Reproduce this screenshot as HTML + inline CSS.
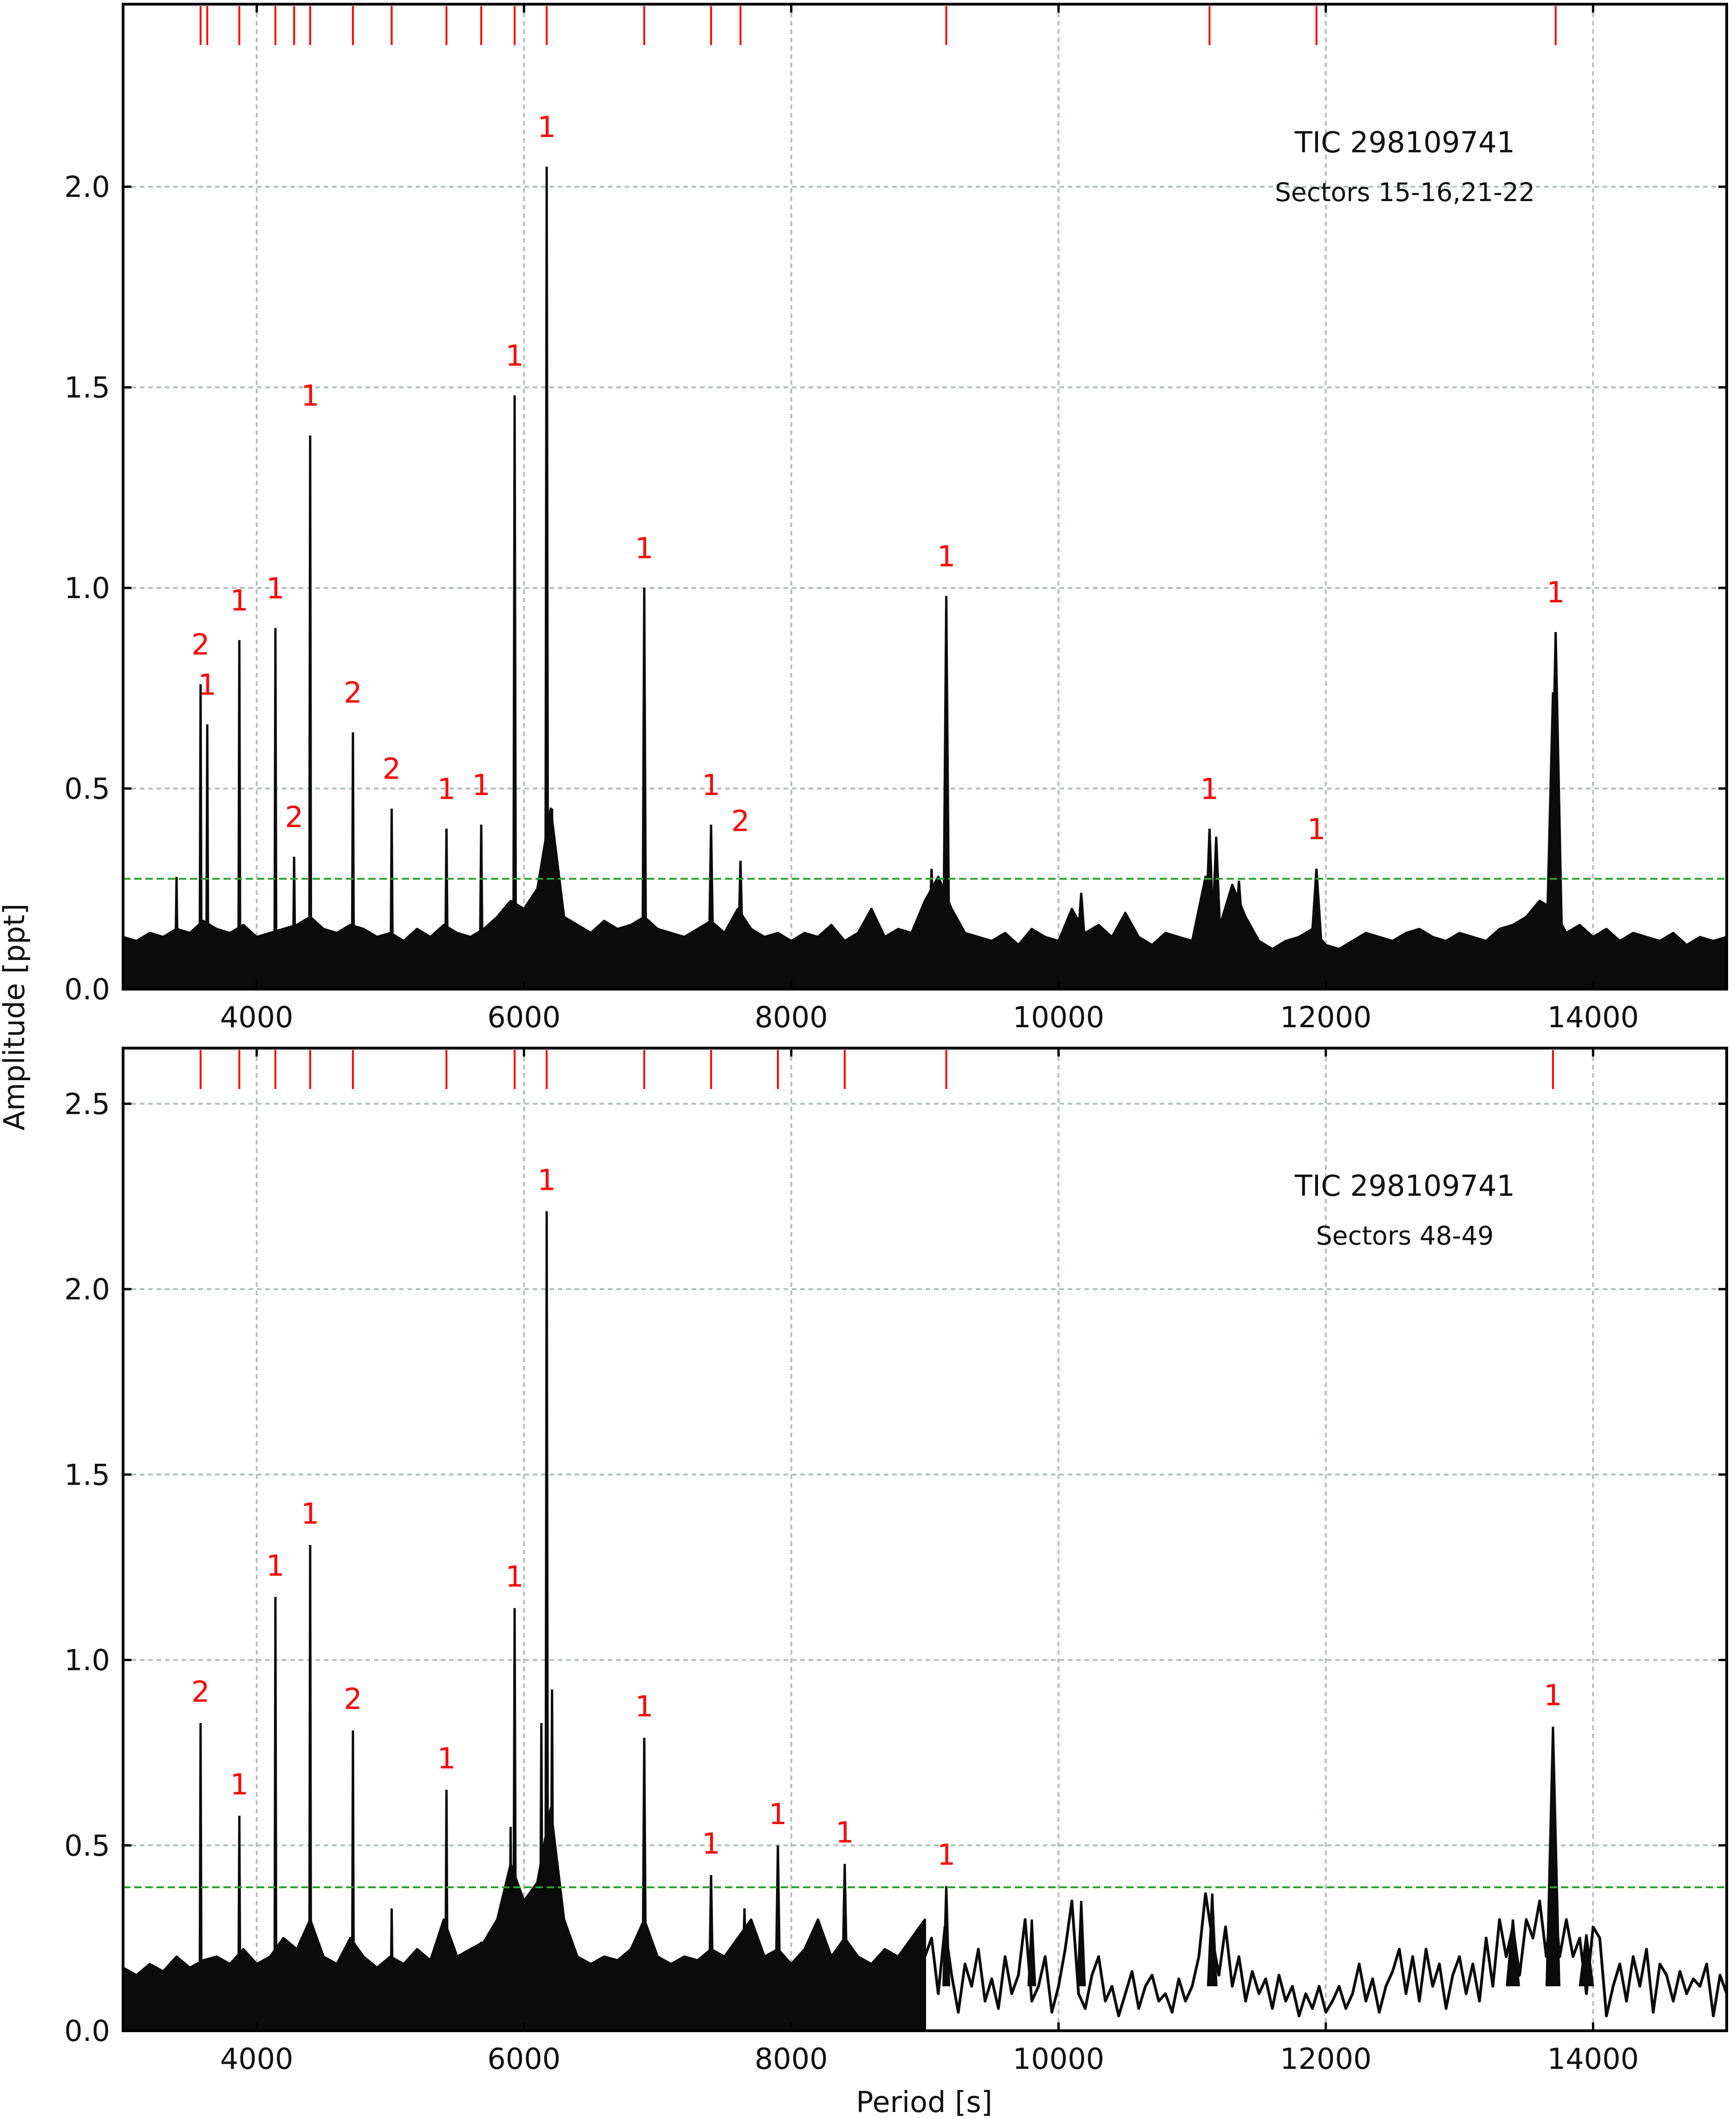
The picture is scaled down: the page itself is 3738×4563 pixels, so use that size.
<!DOCTYPE html>
<html><head><meta charset="utf-8"><style>
html,body{margin:0;padding:0;background:#fff;}
svg{display:block;font-family:"DejaVu Sans","Liberation Sans",sans-serif;}
</style></head><body>
<svg id="chart" width="3738" height="4563" viewBox="0 0 3738 4563" xmlns="http://www.w3.org/2000/svg"></svg>
<script>
// ---------- DATA ----------
const xTicks = [4000,6000,8000,10000,12000,14000];
const xTickLabels = ["4000","6000","8000","10000","12000","14000"];
const topYTicks = [0,0.5,1.0,1.5,2.0];
const topYTickLabels = ["0.0","0.5","1.0","1.5","2.0"];
const botYTicks = [0,0.5,1.0,1.5,2.0,2.5];
const botYTickLabels = ["0.0","0.5","1.0","1.5","2.0","2.5"];

// top panel peaks
const topPeakPeriods = [3400,3580,3630,3870,4140,4280,4400,4720,5010,5420,5680,5930,6170,6210,6900,7400,7620,9050,9160,10170,11130,11180,11350,11930,13700,13720];
const topPeakAmps    = [0.28,0.76,0.66,0.87,0.90,0.33,1.38,0.64,0.45,0.40,0.41,1.48,2.05,0.45,1.00,0.41,0.32,0.30,0.98,0.24,0.40,0.38,0.27,0.30,0.74,0.89];
const topLabelPeriods = [3580,3630,3870,4140,4280,4400,4720,5010,5420,5680,5930,6170,6900,7400,7620,9160,11130,11930,13720];
const topLabelAmps    = [0.76,0.66,0.87,0.90,0.33,1.38,0.64,0.45,0.40,0.41,1.48,2.05,1.00,0.41,0.32,0.98,0.40,0.30,0.89];
const topLabelTexts   = ["2","1","1","1","2","1","2","2","1","1","1","1","1","1","2","1","1","1","1"];
const topMarkPeriods  = [3580,3630,3870,4140,4280,4400,4720,5010,5420,5680,5930,6170,6900,7400,7620,9160,11130,11930,13720];
const topThreshold = 0.275;
const topNoise = [0.13,0.12,0.14,0.13,0.15,0.14,0.17,0.15,0.14,0.16,
0.13,0.14,0.15,0.16,0.18,0.15,0.14,0.16,0.15,0.13,
0.14,0.12,0.15,0.13,0.16,0.14,0.13,0.15,0.18,0.22,
0.20,0.25,0.45,0.18,0.16,0.14,0.17,0.15,0.16,0.18,
0.15,0.14,0.13,0.15,0.17,0.14,0.20,0.15,0.13,0.14,
0.12,0.14,0.13,0.16,0.12,0.14,0.20,0.13,0.15,0.14,
0.22,0.28,0.20,0.14,0.13,0.12,0.14,0.11,0.15,0.13,
0.12,0.20,0.14,0.16,0.13,0.19,0.13,0.11,0.14,0.13,
0.12,0.28,0.15,0.26,0.18,0.12,0.10,0.12,0.13,0.15,
0.11,0.10,0.12,0.14,0.13,0.12,0.14,0.15,0.13,0.12,
0.14,0.13,0.12,0.15,0.16,0.18,0.22,0.20,0.14,0.16,
0.13,0.15,0.12,0.14,0.13,0.12,0.14,0.11,0.13,0.12,0.13];

// bottom panel peaks
const botPeakPeriods = [3580,3870,4140,4400,4720,5010,5420,5680,5900,5930,6130,6170,6210,6900,7400,7650,7900,8200,8400,9160,9800,10170,11150,13400,13700,13950];
const botPeakAmps    = [0.83,0.58,1.17,1.31,0.81,0.33,0.65,0.24,0.55,1.14,0.83,2.21,0.92,0.79,0.42,0.33,0.50,0.30,0.45,0.39,0.30,0.35,0.37,0.30,0.82,0.26];
const botLabelPeriods = [3580,3870,4140,4400,4720,5420,5930,6170,6900,7400,7900,8400,9160,13700];
const botLabelAmps    = [0.83,0.58,1.17,1.31,0.81,0.65,1.14,2.21,0.79,0.42,0.50,0.45,0.39,0.82];
const botLabelTexts   = ["2","1","1","1","2","1","1","1","1","1","1","1","1","1"];
const botMarkPeriods  = [3580,3870,4140,4400,4720,5420,5930,6170,6900,7400,7900,8400,9160,13700];
const botThreshold = 0.387;
const botNoiseDense = [0.17,0.15,0.18,0.16,0.2,0.17,0.19,0.2,0.18,0.22,
0.18,0.2,0.25,0.22,0.3,0.2,0.18,0.25,0.2,0.17,
0.2,0.18,0.22,0.19,0.3,0.2,0.22,0.24,0.3,0.45,
0.35,0.4,0.6,0.3,0.2,0.18,0.2,0.19,0.22,0.3,
0.2,0.18,0.2,0.19,0.22,0.2,0.25,0.3,0.2,0.22,
0.18,0.22,0.3,0.2,0.25,0.2,0.18,0.22,0.2,0.25,0.3];
const botNoiseLine = [0.2,0.25,0.1,0.28,0.15,0.05,0.18,0.12,0.22,0.08,
0.14,0.06,0.2,0.1,0.15,0.3,0.08,0.12,0.2,0.05,
0.12,0.22,0.35,0.1,0.06,0.15,0.2,0.08,0.12,0.04,
0.1,0.16,0.06,0.12,0.15,0.08,0.1,0.05,0.14,0.08,
0.12,0.2,0.37,0.25,0.15,0.28,0.12,0.2,0.08,0.16,
0.1,0.14,0.06,0.15,0.08,0.12,0.04,0.1,0.06,0.12,
0.05,0.08,0.12,0.06,0.1,0.18,0.08,0.14,0.05,0.12,
0.16,0.22,0.1,0.2,0.08,0.22,0.12,0.18,0.06,0.15,
0.2,0.1,0.18,0.08,0.25,0.12,0.3,0.2,0.28,0.15,
0.3,0.25,0.35,0.2,0.4,0.2,0.3,0.2,0.25,0.1,
0.28,0.25,0.04,0.12,0.18,0.08,0.2,0.12,0.22,0.05,
0.18,0.15,0.08,0.16,0.1,0.14,0.12,0.18,0.04,0.15,0.1];

// ---------- DRAWING ----------
const NS = "http://www.w3.org/2000/svg";
const svg = document.getElementById("chart");
const X0 = 265, X1 = 3718, PMIN = 3000, PMAX = 15000;
function xs(p){ return X0 + (p - PMIN) / (PMAX - PMIN) * (X1 - X0); }
function mk(tag, attrs, parent){
  const e = document.createElementNS(NS, tag);
  for (const k in attrs) e.setAttribute(k, attrs[k]);
  (parent || svg).appendChild(e);
  return e;
}

function panel(cfg){
  const g = mk("g", {});
  
  
  const ys = v => cfg.yBot - v / cfg.yMax * (cfg.yBot - cfg.yTop);
  xTicks.forEach(t => {
    const l = mk("line", {x1: xs(t), x2: xs(t), y1: cfg.yTop, y2: cfg.yBot, stroke: "#b4bfbd", "stroke-width": 4, "stroke-dasharray": "10 8"}, g);
    
    
  });
  cfg.yTicks.forEach(t => {
    const l = mk("line", {x1: X0, x2: X1, y1: ys(t), y2: ys(t), stroke: "#b4bfbd", "stroke-width": 4, "stroke-dasharray": "10 8"}, g);
    
    
  });
  let d = "M" + xs(PMIN) + "," + ys(0);
  cfg.dense.forEach((v, i) => { d += " L" + xs(PMIN + i * 100).toFixed(1) + "," + ys(v).toFixed(1); });
  d += " L" + xs(PMIN + (cfg.dense.length - 1) * 100) + "," + ys(0) + " Z";
  const np = mk("path", {d: d, fill: "#0b0b0b", stroke: "#0b0b0b", "stroke-width": 5, "stroke-linejoin": "round"}, g);
  
  
  if (cfg.line){
    let d2 = "";
    cfg.line.forEach((v, i) => { d2 += (i ? " L" : "M") + xs(9000 + i * 50).toFixed(1) + "," + ys(v).toFixed(1); });
    const lp = mk("path", {d: d2, fill: "none", stroke: "#0b0b0b", "stroke-width": 6, "stroke-linejoin": "round"}, g);
    
    
  }
  cfg.pp.forEach((p, i) => {
    const w = Math.max(6, 9 * p * p / 36e6);
    const pd = "M" + xs(p - w) + "," + ys(0.12) + " L" + xs(p) + "," + ys(cfg.pa[i]) + " L" + xs(p + w) + "," + ys(0.12);
    const pk = mk("path", {d: pd, fill: "#0b0b0b", stroke: "#0b0b0b", "stroke-width": 5, "stroke-linejoin": "miter"}, g);
    
    
  });
  const th = mk("line", {x1: X0, x2: X1, y1: ys(cfg.thr), y2: ys(cfg.thr), stroke: "#2ca02c", "stroke-width": 4, "stroke-dasharray": "16 8"}, g);
  
  
  cfg.marks.forEach(p => {
    const m = mk("line", {x1: xs(p), x2: xs(p), y1: cfg.yTop + 4, y2: cfg.yTop + 88, stroke: "#ff0000", "stroke-width": 4}, g);
    
    
  });
  cfg.lp.forEach((p, i) => {
    const t = mk("text", {x: xs(p), y: ys(cfg.la[i]) - cfg.labOff, fill: "#ff0000", "font-size": 62, "text-anchor": "middle"}, g);
    t.textContent = cfg.lt[i];
    
    
  });
  const fr = mk("rect", {x: X0, y: cfg.yTop, width: X1 - X0, height: cfg.yBot - cfg.yTop, fill: "none", stroke: "#000", "stroke-width": 6}, g);
  
  
  xTicks.forEach((t, i) => {
    mk("line", {x1: xs(t), x2: xs(t), y1: cfg.yBot, y2: cfg.yBot - 18, stroke: "#000", "stroke-width": 5}, g);
    mk("line", {x1: xs(t), x2: xs(t), y1: cfg.yTop, y2: cfg.yTop + 18, stroke: "#000", "stroke-width": 5}, g);
    const tl = mk("text", {x: xs(t), y: cfg.yBot + 82, "font-size": 62, "text-anchor": "middle", fill: "#111"}, g);
    tl.textContent = xTickLabels[i];
    
    
  });
  cfg.yTicks.forEach((t, i) => {
    mk("line", {x1: X0, x2: X0 + 18, y1: ys(t), y2: ys(t), stroke: "#000", "stroke-width": 5}, g);
    mk("line", {x1: X1, x2: X1 - 18, y1: ys(t), y2: ys(t), stroke: "#000", "stroke-width": 5}, g);
    const tl = mk("text", {x: X0 - 28, y: ys(t) + 22, "font-size": 62, "text-anchor": "end", fill: "#111"}, g);
    tl.textContent = cfg.yLabels[i];
    
    
  });
  const a1 = mk("text", {x: 3025, y: cfg.titleY, "font-size": 62, "text-anchor": "middle", fill: "#111"}, g);
  a1.textContent = "TIC 298109741";
  
  
  const a2 = mk("text", {x: 3025, y: cfg.titleY + 105, "font-size": 55, "text-anchor": "middle", fill: "#111"}, g);
  a2.textContent = cfg.sectors;
  
  
}

panel({name: "top-panel", yTop: 9, yBot: 2130, yMax: 2.455, yTicks: topYTicks, yLabels: topYTickLabels,
  dense: topNoise, line: null, pp: topPeakPeriods, pa: topPeakAmps, lp: topLabelPeriods, la: topLabelAmps, lt: topLabelTexts,
  marks: topMarkPeriods, thr: topThreshold, titleY: 328, sectors: "Sectors 15-16,21-22", labOff: 64});
panel({name: "bottom-panel", yTop: 2257, yBot: 4373, yMax: 2.65, yTicks: botYTicks, yLabels: botYTickLabels,
  dense: botNoiseDense, line: botNoiseLine, pp: botPeakPeriods, pa: botPeakAmps, lp: botLabelPeriods, la: botLabelAmps, lt: botLabelTexts,
  marks: botMarkPeriods, thr: botThreshold, titleY: 2575, sectors: "Sectors 48-49", labOff: 46});

const xl = mk("text", {x: 1990, y: 4548, "font-size": 62, "text-anchor": "middle", fill: "#111"});
xl.textContent = "Period [s]";


const yl = mk("text", {x: 0, y: 0, "font-size": 62, "text-anchor": "middle", fill: "#111", transform: "translate(52,2190) rotate(-90)"});
yl.textContent = "Amplitude [ppt]";


</script>
</body></html>
